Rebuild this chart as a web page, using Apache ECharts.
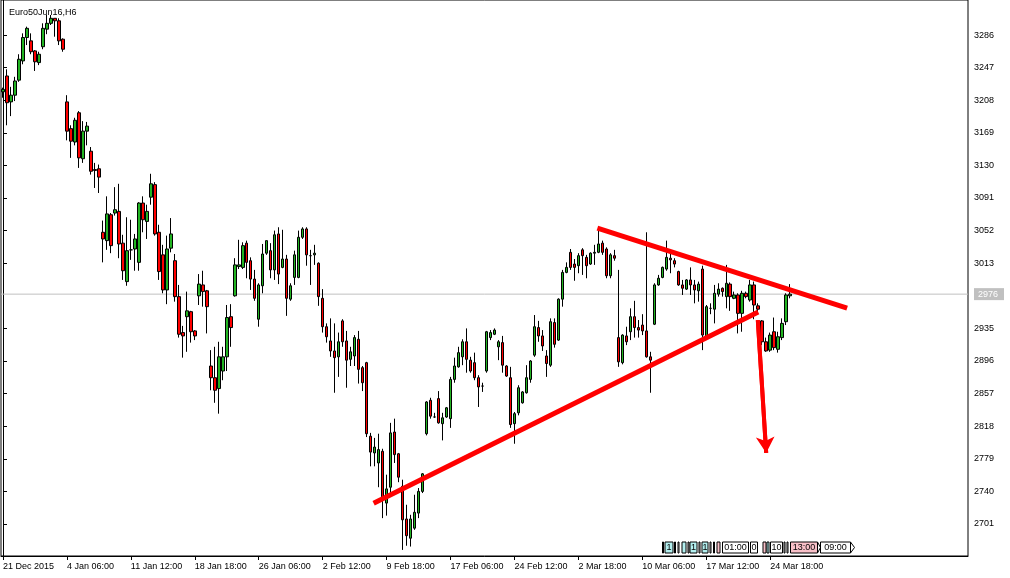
<!DOCTYPE html>
<html><head><meta charset="utf-8">
<script src="https://cdn.jsdelivr.net/npm/echarts@6/dist/echarts.min.js"></script>
<style>html,body{margin:0;padding:0;background:#fff}#c{width:1010px;height:578px}</style>
</head><body><div id="c"></div>
<script>
const symbolName = 'Euro50Jun16,H6';
const tickLabels = ['21 Dec 2015','4 Jan 06:00','11 Jan 12:00','18 Jan 18:00','26 Jan 06:00','2 Feb 12:00','9 Feb 18:00','17 Feb 06:00','24 Feb 12:00','2 Mar 18:00','10 Mar 06:00','17 Mar 12:00','24 Mar 18:00'];
const barsPerLabel = 16;
const slotCount = 242;
const priceTicks = [3286,3247,3208,3169,3130,3091,3052,3013,2935,2896,2857,2818,2779,2740,2701];
const lastPrice = 2976;
const open = [3218,3237,3206,3214,3232,3255,3283,3279,3267,3253,
3272,3293,3300,3306,3303,3281,3206,3174,3158,3193,
3138,3171,3147,3125,3126,3050,3040,3071,3073,3075,
3037,2991,3029,3030,3014,3085,3063,3092,3107,3050,
3023,2981,3031,3016,2973,2930,2949,2955,2932,2974,
2987,2980,2890,2876,2863,2884,2901,2949,2974,3009,
3008,3037,3016,2994,2946,2986,3025,3028,3005,3048,
3008,3018,2970,2996,2996,3044,3054,3022,3023,3013,
2971,2937,2920,2908,2901,2944,2920,2898,2902,2922,
2888,2894,2806,2786,2774,2788,2726,2745,2811,2785,
2746,2707,2684,2696,2714,2740,2809,2849,2829,2851,
2821,2829,2827,2874,2889,2901,2919,2897,2894,2876,
2866,2884,2924,2928,2913,2918,2890,2876,2821,2834,
2846,2858,2874,2903,2936,2926,2902,2891,2942,2921,
2970,3002,3026,3012,3010,3029,3020,3012,3025,3026,
3037,3030,2998,3022,2924,2894,2926,2931,2949,2936,
2939,2932,2901,2940,2987,2996,3006,3019,3016,3003,
2987,2982,2993,2987,2980,3006,2926,2959,2958,2976,
2983,2973,2988,2971,2975,2953,2977,2969,2987,2962,
2944,2919,2909,2931,2910,2924,2943,2974];
const close = [3221,3205,3214,3231,3257,3283,3294,3266,3254,3263,
3294,3300,3306,3303,3279,3269,3171,3159,3184,3139,
3171,3177,3123,3124,3116,3042,3072,3034,3077,3036,
3004,3028,3029,3042,3085,3065,3075,3108,3048,3003,
2981,3030,3048,2973,2928,2926,2956,2931,2926,2988,
2979,2961,2876,2861,2901,2901,2948,2936,3011,3011,
3034,3014,2994,2971,2987,3024,3040,3005,3047,3000,
3018,2971,2986,3023,3044,3054,3023,3022,3025,2973,
2937,2925,2908,2900,2919,2919,2897,2907,2924,2886,
2870,2809,2787,2793,2790,2730,2743,2810,2784,2757,
2706,2687,2707,2715,2740,2761,2847,2830,2829,2822,
2828,2840,2874,2890,2906,2919,2898,2884,2876,2865,
2866,2931,2930,2933,2919,2891,2878,2820,2833,2864,
2859,2876,2896,2937,2926,2914,2893,2943,2916,2970,
3002,3008,3008,3008,3022,3022,3010,3025,3026,3036,
3026,2998,3023,3019,2895,2927,2919,2949,2936,2933,
2932,2901,2897,2987,2995,3008,3020,3017,3012,2987,
2983,2993,2987,2981,2988,2927,2961,2959,2977,2982,
2979,2989,2973,2975,2953,2977,2973,2987,2963,2958,
2919,2908,2927,2912,2925,2941,2975,2976];
const low = [3211,3178,3189,3207,3230,3251,3274,3263,3243,3250,
3269,3287,3298,3284,3274,3266,3160,3139,3154,3127,
3133,3154,3119,3103,3097,3014,3029,3025,3070,3019,
2993,2986,3017,3004,3004,3050,3042,3083,3046,2993,
2977,2964,3026,2967,2924,2900,2907,2918,2921,2963,
2961,2929,2861,2846,2833,2873,2884,2913,2973,3006,
3006,2995,2981,2968,2937,2977,3023,2995,2993,2988,
3007,2950,2968,2987,2995,3042,3010,2987,3011,2962,
2930,2918,2901,2858,2877,2913,2864,2890,2890,2869,
2860,2805,2770,2770,2745,2708,2711,2738,2774,2751,
2670,2675,2674,2694,2708,2738,2807,2827,2828,2821,
2801,2828,2816,2870,2888,2891,2882,2882,2873,2841,
2859,2882,2921,2927,2897,2882,2877,2816,2797,2831,
2845,2857,2870,2901,2919,2908,2877,2889,2912,2920,
2961,3001,3005,2992,3001,2999,2995,3011,3011,3025,
3023,2995,2995,3016,2889,2892,2915,2921,2924,2924,
2927,2900,2858,2939,2986,2995,3004,3001,3008,2986,
2975,2981,2975,2965,2967,2909,2925,2952,2941,2973,
2973,2959,2956,2970,2929,2931,2971,2967,2946,2953,
2915,2907,2907,2909,2906,2921,2939,2971];
const high = [3223,3245,3224,3236,3263,3288,3296,3288,3268,3266,
3300,3310,3310,3306,3306,3282,3214,3178,3187,3195,
3183,3182,3152,3133,3131,3064,3093,3073,3104,3108,
3047,3068,3065,3048,3086,3093,3083,3120,3110,3059,
3035,3046,3067,3024,2987,2938,2979,2956,2933,3000,
3004,2981,2909,2913,2919,2913,2963,2964,3019,3041,
3038,3040,3020,3005,2989,3036,3040,3037,3052,3056,
3053,3023,2989,3028,3052,3056,3056,3029,3035,3014,
2982,2941,2947,2941,2930,2946,2932,2913,2927,2932,
2890,2895,2810,2804,2809,2791,2760,2822,2827,2786,
2754,2724,2712,2736,2744,2762,2848,2852,2834,2860,
2834,2841,2877,2900,2913,2922,2935,2901,2906,2879,
2870,2932,2933,2935,2921,2926,2891,2889,2835,2867,
2860,2891,2897,2951,2944,2933,2909,2947,2947,2971,
3005,3014,3030,3018,3025,3031,3023,3026,3035,3055,
3040,3032,3025,3029,3005,2928,2937,2959,2968,2945,
2952,3050,2907,2989,2999,3009,3040,3025,3019,3004,
2993,2994,3008,2993,2991,3010,2963,2965,2987,2989,
2984,3011,2990,2979,2977,2980,2979,2993,2991,2965,
2945,2924,2930,2948,2931,2947,2977,2988];
// trend lines: [bar index, price]
const supportLine = [[92.75, 2725.7], [189, 2954.6]];
const resistanceLine = [[148.75, 3055.1], [211.25, 2959.4]];
const breakArrow = [[188.9, 2945], [191, 2786]];

const categories = [];
for (let i = 0; i < slotCount; i++) categories.push('');
tickLabels.forEach((t, k) => { categories[k * barsPerLabel] = t; });
const candles = open.map((o, i) => [o, close[i], low[i], high[i]]);
const isLabelIdx = (idx) => idx % barsPerLabel === 0 && idx / barsPerLabel < tickLabels.length;

const FONT = 'Liberation Sans';
const chart = echarts.init(document.getElementById('c'), null, {renderer: 'canvas'});

function box(x, w, fill, text) {
  const els = [{
    type: 'rect', shape: {x: x, y: 542, width: w, height: 11},
    style: {fill: fill, stroke: '#000', lineWidth: 1}
  }];
  if (text) els.push({type: 'text', x: x + w / 2, y: 548,
    style: {text: text, fill: '#000', font: '9px ' + FONT, align: 'center', verticalAlign: 'middle'}});
  return els;
}
const cyan = '#b4f0f0', pink = '#f8c0c8', white = '#ffffff';
let marks = [];
[[662.5,1,white],[665,8,cyan,'1'],[674.5,1,white],[678,1,white],[682,4,cyan],[688,1,white],[690,7,cyan,'1'],[699,1,white],
 [702,6,cyan,'1'],[710,1,white],[713.5,1,white],[717,3,pink],[722.5,26,white,'01:00'],[750.5,7,white,'0'],
 [763,3,pink],[767,2,cyan],[770.5,12,white,'10'],[784,1,white],[787,1,white],[790.5,27,pink,'13:00'],[820.5,30,white,'09:00']
].forEach(m => { marks = marks.concat(box(m[0], m[1], m[2], m[3])); });
// chevron tips on the last two time boxes
marks.push({type: 'polyline', shape: {points: [[817.5, 542], [820.5, 547.5], [817.5, 553]]}, style: {stroke: '#000', fill: null, lineWidth: 1}});
marks.push({type: 'polyline', shape: {points: [[850.5, 542], [854.5, 547.5], [850.5, 553]]}, style: {stroke: '#000', fill: null, lineWidth: 1}});

chart.setOption({
  animation: false,
  backgroundColor: '#ffffff',
  title: {text: symbolName, left: 4, top: 3,
    textStyle: {fontSize: 9, fontWeight: 'normal', color: '#000', fontFamily: FONT}},
  grid: {left: 0, top: 0, width: 968, height: 556, show: true, borderColor: '#000', borderWidth: 1, containLabel: false},
  xAxis: [{
    type: 'category', data: categories, boundaryGap: true,
    axisLine: {show: true, lineStyle: {color: '#000', width: 1}},
    axisTick: {show: true, alignWithLabel: true, interval: isLabelIdx, length: 4, lineStyle: {color: '#000'}},
    axisLabel: {interval: isLabelIdx, align: 'left', color: '#000', fontSize: 9, fontFamily: FONT, margin: 6},
    splitLine: {show: false}
  }, {
    type: 'value', min: -0.5, max: slotCount - 0.5, show: false
  }],
  yAxis: {
    type: 'value', position: 'right', min: 2662.7, max: 3327.9, scale: true,
    axisLine: {show: true, lineStyle: {color: '#000', width: 1}},
    axisTick: {show: true, length: 4, customValues: priceTicks, lineStyle: {color: '#000'}},
    axisLabel: {customValues: priceTicks.concat([lastPrice]), color: '#000', fontSize: 9, fontFamily: FONT, margin: 6,
      formatter: v => v === lastPrice ? '{cur|' + v + '}' : String(v),
      rich: {cur: {backgroundColor: '#c0c0c0', color: '#ffffff', fontSize: 9, fontFamily: FONT, padding: [2, 6, 1, 4]}}},
    splitLine: {show: false}
  },
  series: [{
    type: 'line', xAxisIndex: 1, data: [[-0.5, lastPrice], [slotCount - 0.5, lastPrice]],
    symbol: 'none', silent: true, z: 1, lineStyle: {color: '#c0c0c0', width: 1}
  }, {
    type: 'candlestick', xAxisIndex: 0, data: candles, barWidth: 3, z: 2,
    itemStyle: {color: '#22b422', color0: '#ff0000', borderColor: '#000', borderColor0: '#000', borderColorDoji: '#000', borderWidth: 1}
  }, {
    type: 'line', xAxisIndex: 1, data: supportLine, symbol: 'none', z: 3, silent: true,
    lineStyle: {color: '#ff0000', width: 5}
  }, {
    type: 'line', xAxisIndex: 1, data: resistanceLine, symbol: 'none', z: 3, silent: true,
    lineStyle: {color: '#ff0000', width: 5}
  }, {
    type: 'line', xAxisIndex: 1, data: breakArrow, symbol: 'none', z: 3, silent: true,
    lineStyle: {color: '#ff0000', width: 4},
    markLine: {silent: true, symbol: ['none', 'arrow'], symbolSize: [14, 16], label: {show: false},
      lineStyle: {color: '#ff0000', width: 4, type: 'solid'},
      data: [[{coord: breakArrow[0]}, {coord: breakArrow[1]}]]}
  }],
  graphic: {elements: marks}
});
</script></body></html>
